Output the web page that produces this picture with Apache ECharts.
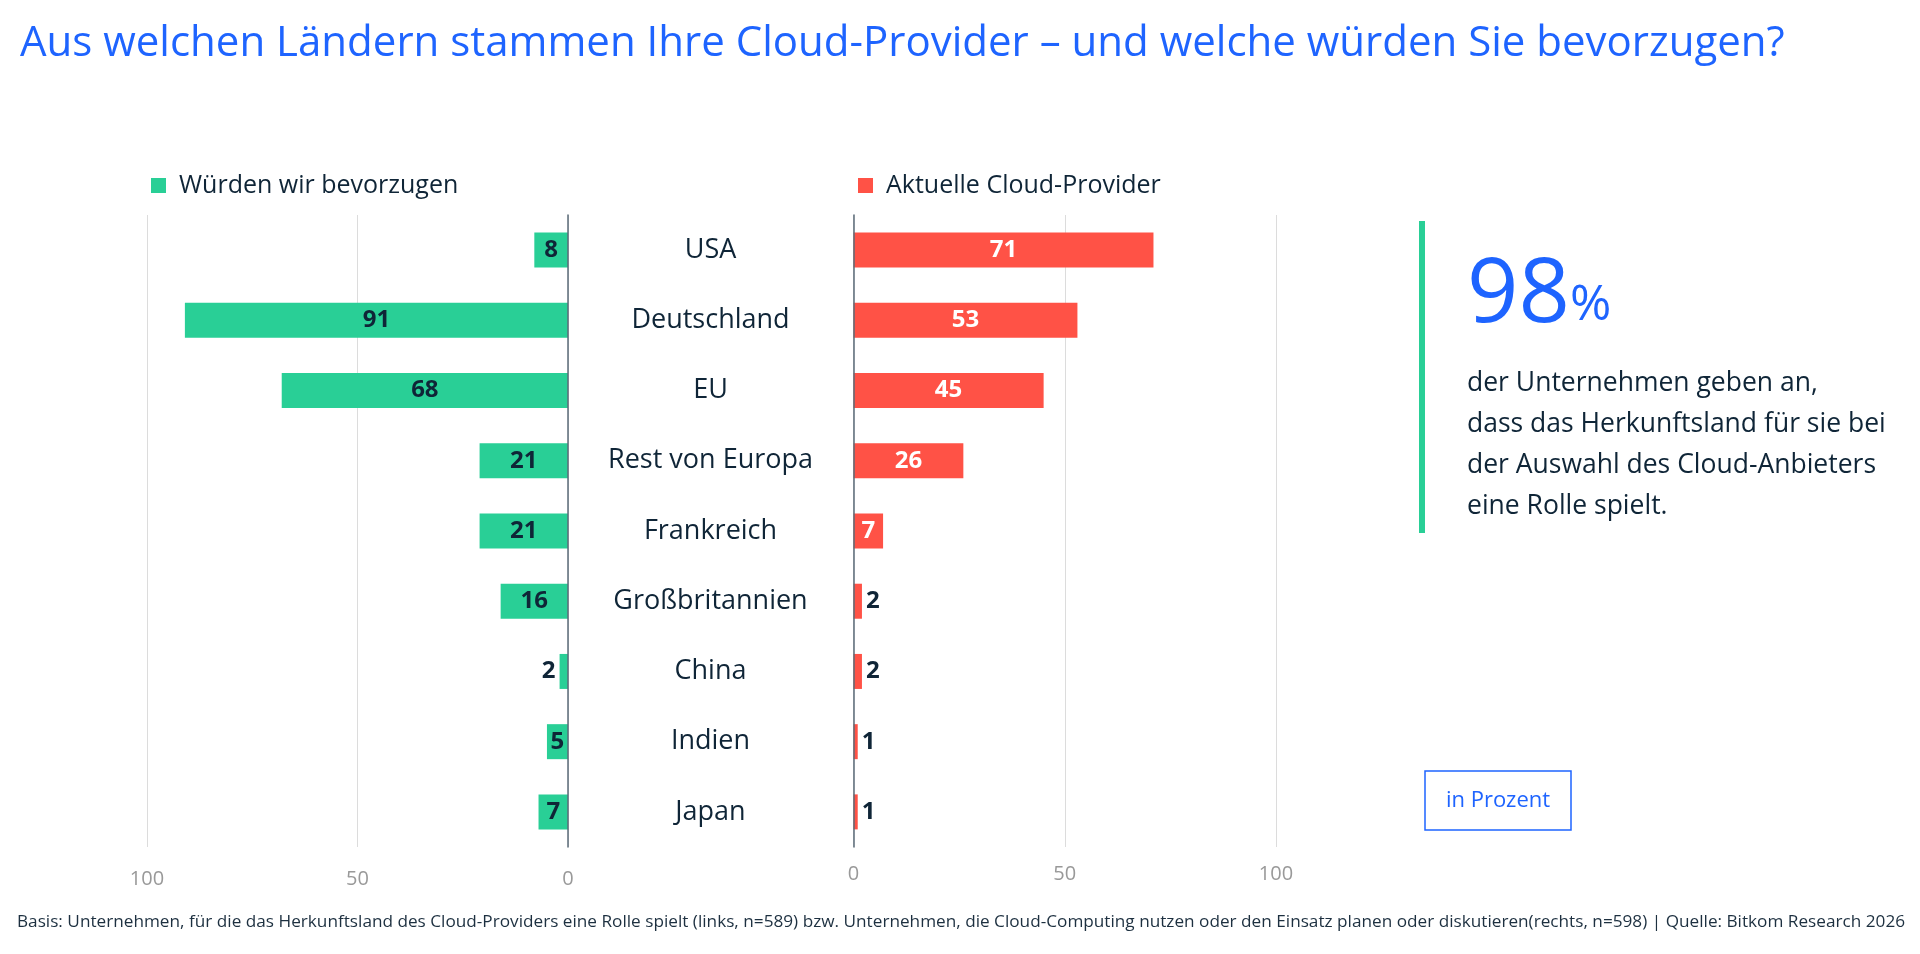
<!DOCTYPE html>
<html><head><meta charset="utf-8">
<script src="https://cdn.jsdelivr.net/npm/echarts@6/dist/echarts.min.js"></script>
<style>html,body{margin:0;padding:0;background:#fff}#c{width:1920px;height:954px}</style>
</head><body><div id="c"></div>
<script>
const categories = ['USA','Deutschland','EU','Rest von Europa','Frankreich','Großbritannien','China','Indien','Japan'];
const preferred = [8,91,68,21,21,16,2,5,7];
const current = [71,53,45,26,7,2,2,1,1];
const leftTicks = [0,50,100];
const rightTicks = [0,50,100];
const seriesNames = ['Würden wir bevorzugen','Aktuelle Cloud-Provider'];
const titleText = 'Aus welchen Ländern stammen Ihre Cloud-Provider – und welche würden Sie bevorzugen?';
const footText = 'Basis: Unternehmen, für die das Herkunftsland des Cloud-Providers eine Rolle spielt (links, n=589) bzw. Unternehmen, die Cloud-Computing nutzen oder den Einsatz planen oder diskutieren(rechts, n=598) | Quelle: Bitkom Research 2026';
const kpiValue = '98';
const kpiText = 'der Unternehmen geben an,\ndass das Herkunftsland für sie bei\nder Auswahl des Cloud-Anbieters\neine Rolle spielt.';

const FONT = 'Open Sans';
const GREEN = '#29CF96';
const RED = '#FF5246';
const BLUE = '#1E64FF';
const DARK = '#0F2537';

const chart = echarts.init(document.getElementById('c'));

function leftData(){
  return preferred.map(v => ({
    value: v,
    label: v >= 5 ? {position:'inside'} : {position:'left', distance:4}
  }));
}
function rightData(){
  return current.map(v => ({
    value: v,
    label: v >= 5 ? {position:'inside', color:'#fff'} : {position:'right', distance:4, color:DARK}
  }));
}

chart.setOption({
  animation:false,
  textStyle:{fontFamily:FONT},
  title:{text:titleText,left:15,top:18,textStyle:{fontFamily:FONT,fontSize:42,fontWeight:'normal',color:BLUE}},
  legend:[
    {data:[seriesNames[0]],left:146,top:168,icon:'rect',itemWidth:15,itemHeight:15,
     textStyle:{fontFamily:FONT,fontSize:25,color:DARK,padding:[0,0,0,8]}},
    {data:[seriesNames[1]],left:853,top:168,icon:'rect',itemWidth:15,itemHeight:15,
     textStyle:{fontFamily:FONT,fontSize:25,color:DARK,padding:[0,0,0,8]}}
  ],
  grid:[
    {left:147,width:421,top:215,height:632},
    {left:853.5,width:422.5,top:215,height:632}
  ],
  xAxis:[
    {gridIndex:0,type:'value',min:0,max:100,interval:50,inverse:true,
     axisLine:{show:false},axisTick:{show:false},
     axisLabel:{fontFamily:FONT,fontSize:20,color:'#999',margin:22,
       formatter:v=>leftTicks.includes(v)?String(v):''},
     splitLine:{lineStyle:{color:'#dcdcdc',width:1}}},
    {gridIndex:1,type:'value',min:0,max:100,interval:50,
     axisLine:{show:false},axisTick:{show:false},
     axisLabel:{fontFamily:FONT,fontSize:20,color:'#999',margin:17,
       formatter:v=>rightTicks.includes(v)?String(v):''},
     splitLine:{lineStyle:{color:'#dcdcdc',width:1}}}
  ],
  yAxis:[
    {gridIndex:0,type:'category',data:categories,inverse:true,position:'right',
     axisLine:{show:true,lineStyle:{color:'#5b6b78',width:1.5}},axisTick:{show:false},
     axisLabel:{show:false},z:5},
    {gridIndex:1,type:'category',data:categories,inverse:true,position:'left',
     axisLine:{show:true,lineStyle:{color:'#5b6b78',width:1.5}},axisTick:{show:false},
     axisLabel:{show:true,fontFamily:FONT,fontSize:27,color:DARK,align:'center',margin:143},z:5}
  ],
  series:[
    {name:seriesNames[0],type:'bar',xAxisIndex:0,yAxisIndex:0,data:leftData(),barWidth:35,
     itemStyle:{color:GREEN},
     label:{show:true,fontFamily:FONT,fontSize:24,fontWeight:'bold',color:DARK}},
    {name:seriesNames[1],type:'bar',xAxisIndex:1,yAxisIndex:1,data:rightData(),barWidth:35,
     itemStyle:{color:RED},
     label:{show:true,fontFamily:FONT,fontSize:24,fontWeight:'bold'}}
  ],
  graphic:[
    {type:'rect',shape:{x:1419,y:221,width:6,height:312},style:{fill:GREEN}},
    {type:'text',x:1467,y:341,style:{text:kpiValue,fontFamily:FONT,fontSize:90,fill:BLUE,verticalAlign:'bottom'}},
    {type:'text',x:1570,y:331,style:{text:'%',fontFamily:FONT,fontSize:50,fill:BLUE,verticalAlign:'bottom'}},
    {type:'text',x:1467,y:363,style:{text:kpiText,fontFamily:FONT,fontSize:26.5,lineHeight:41,fill:DARK,verticalAlign:'top'}},
    {type:'rect',shape:{x:1425,y:771,width:146,height:59},style:{fill:'none',stroke:BLUE,lineWidth:1.5}},
    {type:'text',x:1498,y:800.5,style:{text:'in Prozent',fontFamily:FONT,fontSize:22,fill:BLUE,align:'center',verticalAlign:'middle'}},
    {type:'text',x:17,y:922,style:{text:footText,fontFamily:FONT,fontSize:17.2,fill:'#1d3040',verticalAlign:'middle'}}
  ]
});
</script></body></html>
